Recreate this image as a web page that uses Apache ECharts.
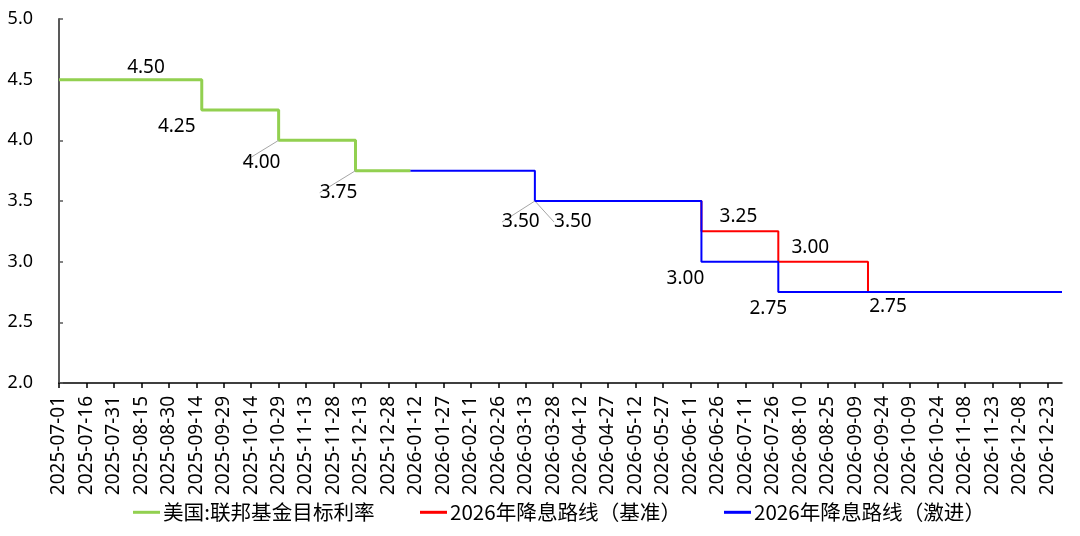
<!DOCTYPE html>
<html><head><meta charset="utf-8">
<script src="https://cdn.jsdelivr.net/npm/echarts@6/dist/echarts.min.js"></script>
<style>html,body{margin:0;padding:0;background:#fff}#c{width:1080px;height:536px}</style>
</head><body><div id="c"></div>
<script>
// ---- data ----
const axisStart = '2025-07-01';
const axisEnd = '2026-12-31';
const tickLabels = ['2025-07-01','2025-07-16','2025-07-31','2025-08-15','2025-08-30','2025-09-14','2025-09-29','2025-10-14','2025-10-29','2025-11-13','2025-11-28','2025-12-13','2025-12-28','2026-01-12','2026-01-27','2026-02-11','2026-02-26','2026-03-13','2026-03-28','2026-04-12','2026-04-27','2026-05-12','2026-05-27','2026-06-11','2026-06-26','2026-07-11','2026-07-26','2026-08-10','2026-08-25','2026-09-09','2026-09-24','2026-10-09','2026-10-24','2026-11-08','2026-11-23','2026-12-08','2026-12-23'];
const yTicks = [2.0, 2.5, 3.0, 3.5, 4.0, 4.5, 5.0];

const seriesNames = ['美国:联邦基金目标利率', '2026年降息路线（基准）', '2026年降息路线（激进）'];
const fedDates  = ['2025-07-01','2025-09-17','2025-10-29','2025-12-10','2026-01-09'];
const fedValues = [4.50, 4.25, 4.00, 3.75, 3.75];
const baseDates  = ['2026-03-18','2026-06-17','2026-07-29','2026-09-16','2026-12-31'];
const baseValues = [3.50, 3.25, 3.00, 2.75, 2.75];
const aggrDates  = ['2026-01-09','2026-03-18','2026-06-17','2026-07-29','2026-12-31'];
const aggrValues = [3.75, 3.50, 3.00, 2.75, 2.75];

// ---- helpers ----
function dayOf(s) {
  const p = s.split('-').map(Number), q = axisStart.split('-').map(Number);
  return Math.round((Date.UTC(p[0], p[1]-1, p[2]) - Date.UTC(q[0], q[1]-1, q[2])) / 86400000);
}
const tickDays = tickLabels.map(dayOf);
const dayToLabel = {};
tickLabels.forEach((t, i) => { dayToLabel[tickDays[i]] = t; });

// label placement (pixel offsets from the data point) and leader-line flags
const labelPlace = [
  {0: [87, -12, false], 1: [-25, 17, false], 2: [-17, 22, true], 3: [-17, 22, true]},
  {0: [38, 21, true], 1: [37, -15, false], 2: [32, -14, false], 3: [20, 15, false]},
  {1: [-14, 21, true], 2: [-16, 17, false], 3: [-10, 17, false]}
];
const colors = ['#92D050', '#FF0000', '#0000FF'];
const widths = [3, 2, 2];
const FONT = 'Noto Sans, Liberation Sans, sans-serif';
const CJK = 'Noto Sans CJK SC, Noto Sans, sans-serif';

function build(si, dates, values) {
  return dates.map((d, i) => {
    const place = labelPlace[si][i];
    const item = { value: [dayOf(d), values[i]] };
    if (place) {
      item.label = { show: true };
      item.labelLine = { show: place[2] };
    }
    return item;
  });
}

const seriesData = [build(0, fedDates, fedValues), build(1, baseDates, baseValues), build(2, aggrDates, aggrValues)];

const series = seriesData.map((data, si) => ({
  name: seriesNames[si],
  type: 'line',
  step: 'end',
  data: data,
  symbol: 'circle',
  symbolSize: 0,
  showAllSymbol: true,
  z: 2 + si,
  itemStyle: { color: colors[si] },
  lineStyle: { color: colors[si], width: widths[si] },
  label: {
    show: false,
    color: '#000',
    fontSize: 19,
    fontFamily: FONT,
    formatter: p => p.value[1].toFixed(2)
  },
  labelLine: { show: false, lineStyle: { color: '#A6A6A6', width: 1 } },
  labelLayout: function (params) {
    const place = labelPlace[si][params.dataIndex];
    if (!place) return {};
    const r = params.rect;
    return {
      x: r.x + r.width / 2 + place[0],
      y: r.y + r.height / 2 + place[1],
      align: 'center',
      verticalAlign: 'middle'
    };
  }
}));

const legendLefts = [133, 420, 724];
const legends = seriesNames.map((n, i) => ({
  data: [n],
  left: legendLefts[i],
  top: 502,
  icon: 'rect',
  itemWidth: 27,
  itemHeight: 3,
  itemGap: 0,
  padding: 0,
  textStyle: { fontSize: 20.6, fontFamily: CJK, color: '#000', padding: [0, 0, 0, -2] }
}));

const chart = echarts.init(document.getElementById('c'), null, { renderer: 'canvas' });
chart.setOption({
  backgroundColor: '#fff',
  animation: false,
  grid: { left: 59, right: 18, top: 19, bottom: 153, containLabel: false },
  legend: legends,
  xAxis: {
    type: 'value',
    min: 0,
    max: dayOf(axisEnd),
    splitLine: { show: false },
    axisLine: { show: true, lineStyle: { color: '#000', width: 1.5 } },
    axisTick: { show: true, inside: false, length: 5, customValues: tickDays, lineStyle: { color: '#000', width: 1.5 } },
    axisLabel: {
      customValues: tickDays,
      rotate: 90,
      margin: 13,
      fontSize: 19,
      fontFamily: FONT,
      color: '#000',
      formatter: v => dayToLabel[v] || ''
    }
  },
  yAxis: {
    type: 'value',
    min: yTicks[0],
    max: yTicks[yTicks.length - 1],
    interval: 0.5,
    splitLine: { show: false },
    axisLine: { show: true, lineStyle: { color: '#595959', width: 2 } },
    axisTick: { show: true, inside: true, length: 4, lineStyle: { color: '#595959', width: 1.5 } },
    axisLabel: {
      margin: 26,
      fontSize: 18,
      fontFamily: FONT,
      color: '#000',
      formatter: v => v.toFixed(1)
    }
  },
  series: series
});
</script>
</body></html>
